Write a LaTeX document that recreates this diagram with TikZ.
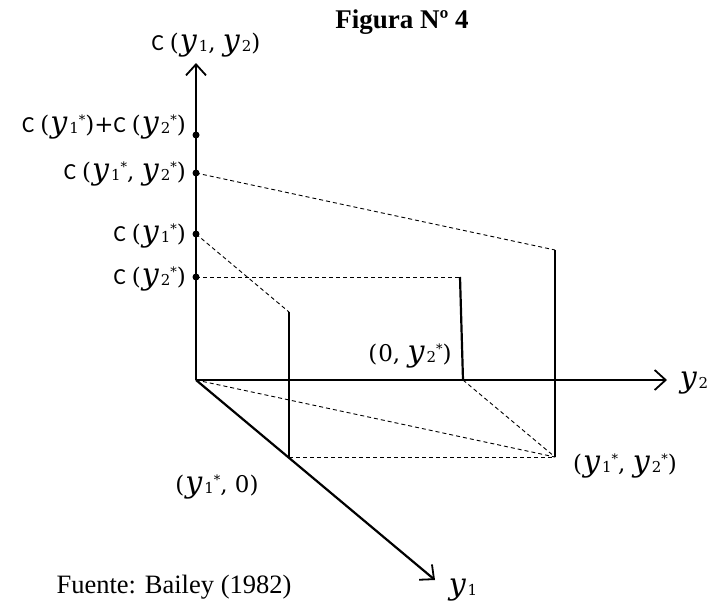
\documentclass[tikz,border=0pt]{standalone}
\usepackage{fontspec}
\setmainfont{Liberation Serif}
\newfontfamily\carl{Carlito}
\newfontfamily\djs{DejaVu Serif}
\usetikzlibrary{arrows.meta}
\newcommand\yv{{\fontsize{30}{30}\selectfont\itshape y}\kern2pt}
\newcommand\ys[1]{{\fontsize{15}{16}\selectfont\raisebox{-1pt}{#1}}}
\newcommand\st{\raisebox{8pt}{\fontsize{13}{13}\selectfont *}}
\newcommand\cc{{\carl C}\kern6pt}
\newcommand\lp{(\kern1pt}
\begin{document}
\begin{tikzpicture}[x=1pt,y=-1pt,
  axis/.style={line width=2.2pt, -{Straight Barb[length=11pt,width=20pt,line width=1.8pt]}},
  solidln/.style={line width=2.2pt},
  dashln/.style={line width=0.9pt, dash pattern=on 4pt off 3pt},
  lbl/.style={inner sep=0pt, font=\djs\fontsize{23}{27}\selectfont},
  txt/.style={inner sep=0pt, font=\fontsize{26.5}{30}\selectfont},
  dot/.style={circle, fill=black, inner sep=0pt, minimum size=7pt}]
\useasboundingbox (0,0) rectangle (710,603);
\coordinate (O) at (196,380);
\coordinate (Ctop) at (196,63);
\coordinate (Y2end) at (667,380);
\coordinate (Y1end) at (435,580);
\coordinate (P1top) at (555,250);
\coordinate (P) at (555,457);
\coordinate (A1top) at (289,312);
\coordinate (A1) at (289,457);
\coordinate (B2top) at (460,277);
\coordinate (B2) at (463,380);
\coordinate (d1) at (196,135);
\coordinate (d2) at (196,173);
\coordinate (d3) at (196,234);
\coordinate (d4) at (196,277);

\draw[dashln] (d2) -- (P1top);
\draw[dashln] (d3) -- (A1top);
\draw[dashln] (d4) -- (B2top);
\draw[dashln] (B2) -- (P);
\draw[dashln] (A1) -- (P);
\draw[dashln] (O) -- (P);
\draw[solidln] (P1top) -- (P);
\draw[solidln] (A1top) -- (A1);
\draw[solidln] (B2top) -- (B2);
\draw[axis] (O) -- (Ctop);
\draw[axis] (O) -- (Y2end);
\draw[axis] (O) -- (Y1end);

\node[dot] (n1) at (d1) {};
\node[dot] (n2) at (d2) {};
\node[dot] (n3) at (d3) {};
\node[dot] (n4) at (d4) {};

\node[lbl] (ctitle) at (206,45) {\cc\lp\yv\ys{1}, \yv\ys{2})};
\node[lbl, anchor=east] (l1) at (186,127) {\cc\lp\yv\ys{1}\st)+\cc\lp\yv\ys{2}\st)};
\node[lbl, anchor=east] (l2) at (186,174) {\cc\lp\yv\ys{1}\st, \yv\ys{2}\st)};
\node[lbl, anchor=east] (l3) at (186,236) {\cc\lp\yv\ys{1}\st)};
\node[lbl, anchor=east] (l4) at (186,279) {\cc\lp\yv\ys{2}\st)};
\node[lbl] (ly2) at (694,383) {\yv\ys{2}};
\node[lbl] (ly1) at (463,590) {\yv\ys{1}};
\node[lbl] (l0y2) at (410,356) {\lp 0, \yv\ys{2}\st)};
\node[lbl] (ly10) at (217,487) {\lp\yv\ys{1}\st, 0)};
\node[lbl] (ly1y2) at (625,466) {\lp\yv\ys{1}\st, \yv\ys{2}\st)};
\node[txt] (src) at (174,587) {Fuente: Bailey (1982)};
\node[txt, font=\fontsize{27}{30}\selectfont\bfseries] (fig) at (402,22) {Figura Nº 4};
\end{tikzpicture}
\end{document}
